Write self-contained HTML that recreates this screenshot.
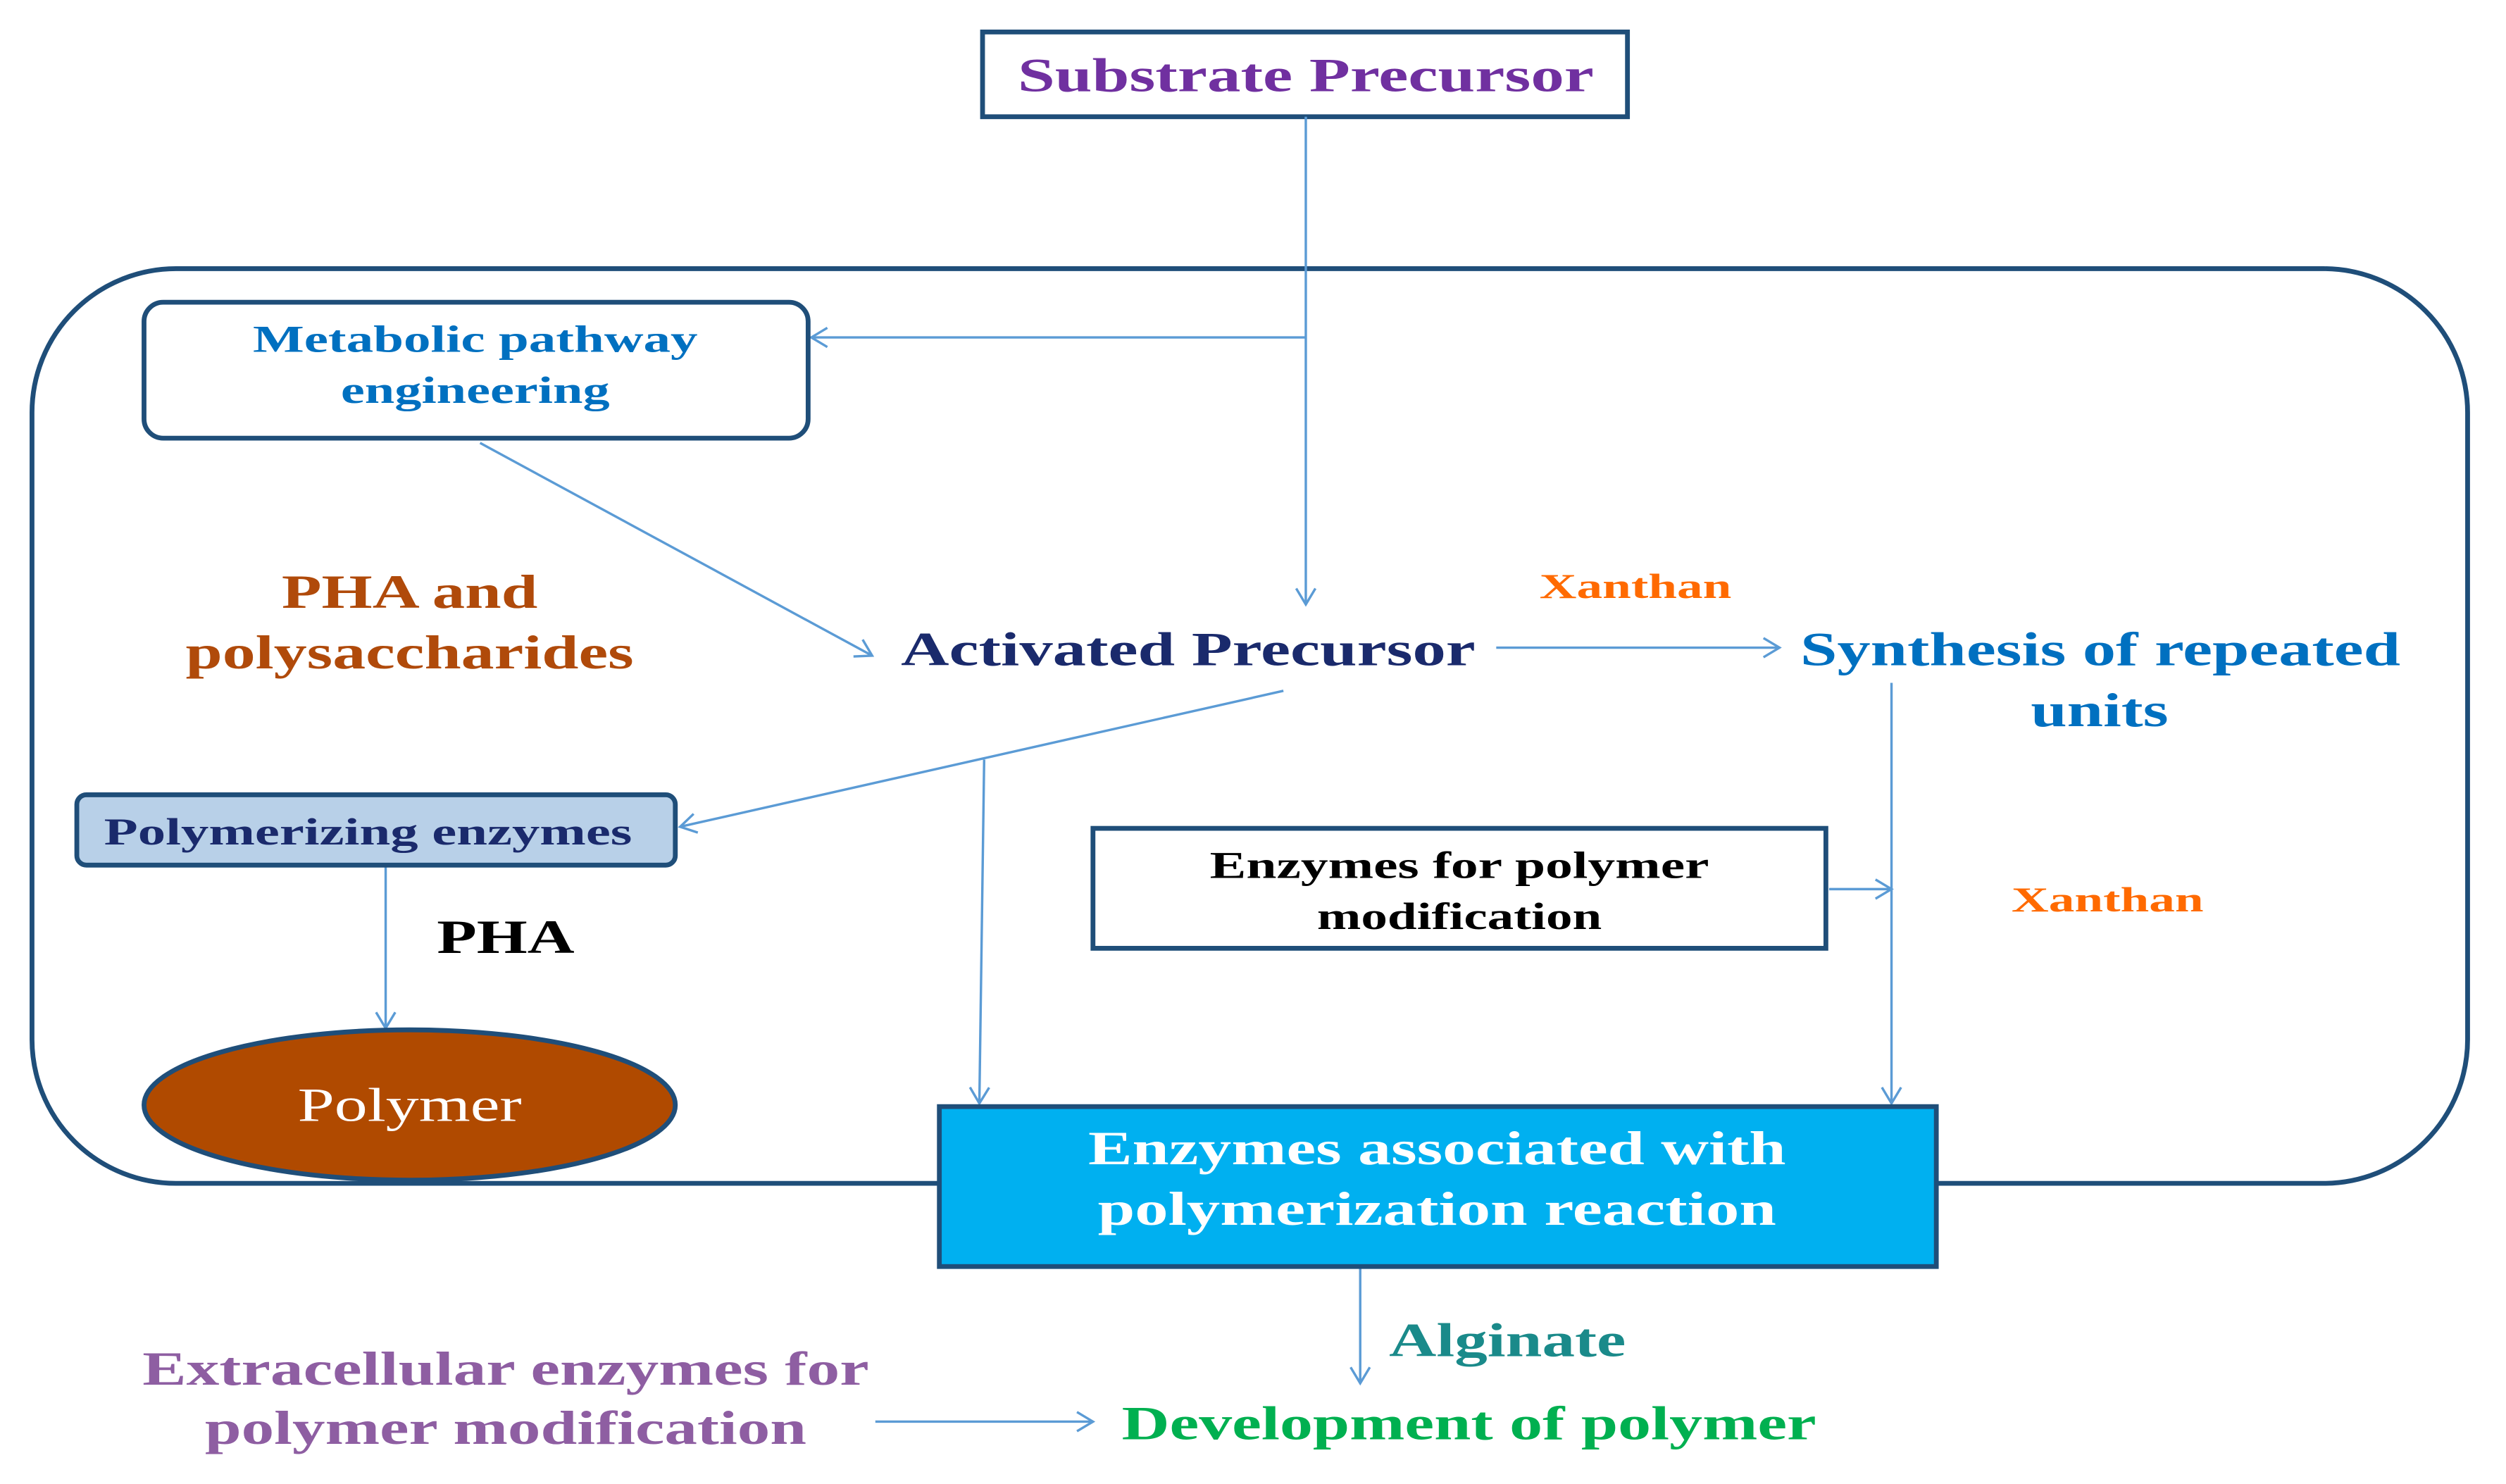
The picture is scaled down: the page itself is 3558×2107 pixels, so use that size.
<!DOCTYPE html>
<html><head><style>html,body{margin:0;padding:0;background:#fff}svg{display:block}</style></head><body>
<svg width="3558" height="2107" viewBox="0 0 1566 928" preserveAspectRatio="none" xmlns="http://www.w3.org/2000/svg" font-family="'Liberation Serif', serif" font-weight="bold">
<defs><marker id="a" markerWidth="14" markerHeight="14" refX="12" refY="7" orient="auto" markerUnits="userSpaceOnUse"><path d="M2,1 L12,7 L2,13" fill="none" stroke="#5b9bd5" stroke-width="1.5"/></marker></defs>
<rect x="20" y="168" width="1522" height="572" rx="90" fill="none" stroke="#1f4e79" stroke-width="3"/>
<rect x="614" y="20" width="403" height="53" fill="#fff" stroke="#1f4e79" stroke-width="3"/>
<text x="816" y="57" text-anchor="middle" font-size="30" fill="#7030a0" textLength="360" lengthAdjust="spacingAndGlyphs">Substrate Precursor</text>
<g stroke="#5b9bd5" stroke-width="1.5" fill="none">
<line x1="816" y1="73" x2="816" y2="378" marker-end="url(#a)"/>
<line x1="816" y1="211" x2="507" y2="211" marker-end="url(#a)"/>
<line x1="300" y1="277" x2="545" y2="410" marker-end="url(#a)"/>
<line x1="935" y1="405" x2="1112" y2="405" marker-end="url(#a)"/>
<line x1="802" y1="432" x2="425" y2="517" marker-end="url(#a)"/>
<line x1="615" y1="475" x2="612" y2="690" marker-end="url(#a)"/>
<line x1="241" y1="541" x2="241" y2="643" marker-end="url(#a)"/>
<line x1="1143" y1="556" x2="1182" y2="556" marker-end="url(#a)"/>
<line x1="1182" y1="427" x2="1182" y2="690" marker-end="url(#a)"/>
<line x1="850" y1="793" x2="850" y2="865" marker-end="url(#a)"/>
<line x1="547" y1="889" x2="683" y2="889" marker-end="url(#a)"/>
</g>
<rect x="90" y="189" width="415" height="85" rx="12" fill="#fff" stroke="#1f4e79" stroke-width="3"/>
<text x="297" y="220" text-anchor="middle" font-size="24" fill="#0070c0" textLength="278" lengthAdjust="spacingAndGlyphs">Metabolic pathway</text>
<text x="297" y="252" text-anchor="middle" font-size="24" fill="#0070c0" textLength="168" lengthAdjust="spacingAndGlyphs">engineering</text>
<text x="256" y="380" text-anchor="middle" font-size="30" fill="#b04a0a" textLength="160" lengthAdjust="spacingAndGlyphs">PHA and</text>
<text x="256" y="418" text-anchor="middle" font-size="30" fill="#b04a0a" textLength="280" lengthAdjust="spacingAndGlyphs">polysaccharides</text>
<text x="563" y="416" font-size="30" fill="#1a2a6c" textLength="359" lengthAdjust="spacingAndGlyphs">Activated Precursor</text>
<text x="1022" y="374" text-anchor="middle" font-size="22" fill="#ff6a00" textLength="120" lengthAdjust="spacingAndGlyphs">Xanthan</text>
<text x="1125" y="416" font-size="30" fill="#0070c0" textLength="375" lengthAdjust="spacingAndGlyphs">Synthesis of repeated</text>
<text x="1312" y="454" text-anchor="middle" font-size="30" fill="#0070c0" textLength="86" lengthAdjust="spacingAndGlyphs">units</text>
<rect x="48" y="497" width="374" height="44" rx="6" fill="#b8d0e8" stroke="#1f4e79" stroke-width="3"/>
<text x="230" y="528" text-anchor="middle" font-size="24" fill="#1a2a6c" textLength="330" lengthAdjust="spacingAndGlyphs">Polymerizing enzymes</text>
<text x="316" y="596" text-anchor="middle" font-size="30" fill="#000" textLength="86" lengthAdjust="spacingAndGlyphs">PHA</text>
<ellipse cx="256" cy="691" rx="166" ry="47" fill="#b04a00" stroke="#1f4e79" stroke-width="3"/>
<text x="256" y="701" text-anchor="middle" font-size="30" font-weight="normal" fill="#fff" textLength="140" lengthAdjust="spacingAndGlyphs">Polymer</text>
<rect x="683" y="518" width="458" height="75" fill="#fff" stroke="#1f4e79" stroke-width="3"/>
<text x="912" y="549" text-anchor="middle" font-size="24" fill="#000" textLength="312" lengthAdjust="spacingAndGlyphs">Enzymes for polymer</text>
<text x="912" y="581" text-anchor="middle" font-size="24" fill="#000" textLength="178" lengthAdjust="spacingAndGlyphs">modification</text>
<text x="1317" y="570" text-anchor="middle" font-size="22" fill="#ff6a00" textLength="120" lengthAdjust="spacingAndGlyphs">Xanthan</text>
<rect x="587" y="692" width="623" height="100" fill="#00b0f0" stroke="#1f4e79" stroke-width="3"/>
<text x="898" y="728" text-anchor="middle" font-size="30" fill="#fff" textLength="436" lengthAdjust="spacingAndGlyphs">Enzymes associated with</text>
<text x="898" y="766" text-anchor="middle" font-size="30" fill="#fff" textLength="424" lengthAdjust="spacingAndGlyphs">polymerization reaction</text>
<text x="942" y="848" text-anchor="middle" font-size="30" fill="#1a8a8a" textLength="148" lengthAdjust="spacingAndGlyphs">Alginate</text>
<text x="918" y="900" text-anchor="middle" font-size="30" fill="#00b050" textLength="434" lengthAdjust="spacingAndGlyphs">Development of polymer</text>
<text x="316" y="866" text-anchor="middle" font-size="30" fill="#8e5ea2" textLength="454" lengthAdjust="spacingAndGlyphs">Extracellular enzymes for</text>
<text x="316" y="903" text-anchor="middle" font-size="30" fill="#8e5ea2" textLength="376" lengthAdjust="spacingAndGlyphs">polymer modification</text>
</svg>
</body></html>
